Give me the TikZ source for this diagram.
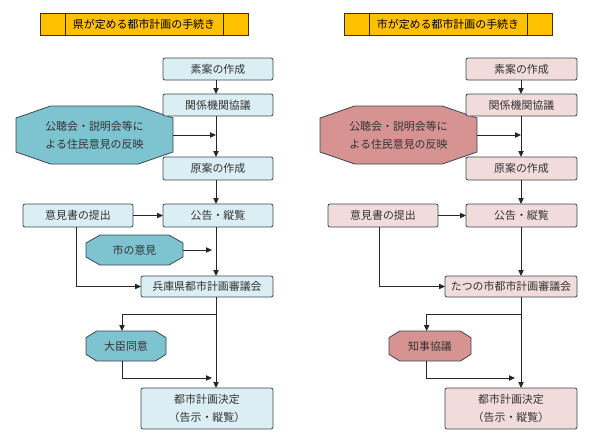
\documentclass[tikz,border=0pt]{standalone}
\usepackage{fontspec}
\setmainfont{Noto Sans CJK JP}
\usetikzlibrary{arrows.meta,backgrounds}

\definecolor{boxLc}{HTML}{DBEEF3}
\definecolor{octLc}{HTML}{7EC3D0}
\definecolor{boxRc}{HTML}{F2DCDB}
\definecolor{octRc}{HTML}{D69392}
\definecolor{ttlc}{HTML}{FFC000}
\definecolor{edgec}{HTML}{3A4650}
\definecolor{txtc}{HTML}{333333}

\tikzset{
  sz/.style 2 args={minimum width=#1*0.75pt, minimum height=#2*0.75pt},
  base/.style={font=\fontsize{8.2}{13.5}\selectfont, text=txtc, align=center, inner sep=0pt, outer sep=0pt},
  boxL/.style={base, draw=edgec, fill=boxLc, rounded corners=1.5pt, line width=0.6pt},
  boxR/.style={base, draw=edgec, fill=boxRc, rounded corners=1.5pt, line width=0.6pt},
  ttl/.style={base, text=black, draw=black!80, fill=ttlc, line width=0.6pt},
  octtext/.style={base},
  octLs/.style={draw=edgec, fill=octLc, line width=0.6pt},
  octRs/.style={draw=edgec, fill=octRc, line width=0.6pt},
  conn/.style={draw=black!85, line width=0.6pt, -{Triangle[length=4.5pt,width=4pt]}},
  plain/.style={draw=black!85, line width=0.6pt},
}

% octagon behind a named node: name, horizontal cut, vertical cut, style
\newcommand\octo[4]{%
  \begin{scope}[on background layer]
    \draw[#4] ([xshift=#2]#1.north west) -- ([xshift=-#2]#1.north east)
      -- ([yshift=-#3]#1.north east) -- ([yshift=#3]#1.south east)
      -- ([xshift=-#2]#1.south east) -- ([xshift=#2]#1.south west)
      -- ([yshift=#3]#1.south west) -- ([yshift=-#3]#1.north west) -- cycle;
  \end{scope}}

% title dividers
\newcommand\ttldiv[2]{%
  \draw[plain] ([xshift=#2]#1.north west) -- ([xshift=#2]#1.south west);
  \draw[plain] ([xshift=-#2]#1.north east) -- ([xshift=-#2]#1.south east);}

\begin{document}
\begin{tikzpicture}[x=0.75pt, y=-0.75pt]
\useasboundingbox (0,0) rectangle (600,444);

% ---------------- left ----------------
\node[ttl, sz={208}{22}] (tL) at (144,24) {県が定める都市計画の手続き};
\ttldiv{tL}{18.75pt}
\node[boxL, sz={110}{22}] (aL) at (218,69) {素案の作成};
\node[boxL, sz={110}{22}] (bL) at (218,105) {関係機関協議};
\node[octtext, sz={157}{58}] (pL) at (94.5,135) {公聴会・説明会等に\\よる住民意見の反映};
\octo{pL}{26pt}{9pt}{octLs}
\node[boxL, sz={110}{23}] (cL) at (218,168.5) {原案の作成};
\node[boxL, sz={110}{23}] (dL) at (218,215.5) {公告・縦覧};
\node[boxL, sz={110}{23}] (eL) at (78,215.5) {意見書の提出};
\node[octtext, sz={97}{30}] (fL) at (134.5,250) {市の意見};
\octo{fL}{10.5pt}{6pt}{octLs}
\node[boxL, sz={132}{21}] (gL) at (207,286.5) {兵庫県都市計画審議会};
\node[octtext, sz={80}{30}] (hL) at (126,346) {大臣同意};
\octo{hL}{8pt}{5pt}{octLs}
\node[boxL, sz={132}{41}] (iL) at (207,408.5) {都市計画決定\\（告示・縦覧）};

\coordinate (sL) at (216,0);
\coordinate (brL) at (216,314);
\coordinate (jL) at (212,378);
\draw[conn] (sL |- aL.south) -- (sL |- bL.north);
\draw[conn] (sL |- bL.south) -- (sL |- cL.north);
\draw[conn] (pL.east) -- (sL |- pL.east);
\draw[conn] (sL |- cL.south) -- (sL |- dL.north);
\draw[conn] (eL.east) -- (dL.west);
\draw[conn] (sL |- dL.south) -- (sL |- gL.north);
\draw[conn] (fL.east) -- ([xshift=-3pt]sL |- fL.east);
\draw[conn] ([xshift=-1.5pt]eL.south) |- (gL.west);
\draw[conn] (sL |- gL.south) -- (sL |- iL.north);
\draw[conn] (brL) -| ([xshift=-3pt]hL.north);
\draw[conn] ([xshift=-3pt]hL.south) |- (jL);

% ---------------- right ----------------
\node[ttl, sz={208}{22}] (tR) at (448,24) {市が定める都市計画の手続き};
\ttldiv{tR}{18.75pt}
\node[boxR, sz={111}{22}] (aR) at (521.5,69) {素案の作成};
\node[boxR, sz={111}{22}] (bR) at (521.5,105) {関係機関協議};
\node[octtext, sz={157}{58}] (pR) at (398.5,135) {公聴会・説明会等に\\よる住民意見の反映};
\octo{pR}{26pt}{9pt}{octRs}
\node[boxR, sz={111}{23}] (cR) at (521.5,168.5) {原案の作成};
\node[boxR, sz={111}{23}] (dR) at (521.5,215.5) {公告・縦覧};
\node[boxR, sz={110}{23}] (eR) at (383,215.5) {意見書の提出};
\node[boxR, sz={132}{21}] (gR) at (511,286.5) {たつの市都市計画審議会};
\node[octtext, sz={82}{30}] (hR) at (430,346) {知事協議};
\octo{hR}{8pt}{5pt}{octRs}
\node[boxR, sz={132}{41}] (iR) at (511,408.5) {都市計画決定\\（告示・縦覧）};

\coordinate (sR) at (521,0);
\coordinate (brR) at (521,314);
\coordinate (jR) at (515,378);
\draw[conn] (sR |- aR.south) -- (sR |- bR.north);
\draw[conn] (sR |- bR.south) -- (sR |- cR.north);
\draw[conn] (pR.east) -- (sR |- pR.east);
\draw[conn] (sR |- cR.south) -- (sR |- dR.north);
\draw[conn] (eR.east) -- (dR.west);
\draw[conn] (sR |- dR.south) -- (sR |- gR.north);
\draw[conn] ([xshift=-3pt]eR.south) |- (gR.west);
\draw[conn] (sR |- gR.south) -- (sR |- iR.north);
\draw[conn] (brR) -| ([xshift=-2.5pt]hR.north);
\draw[conn] ([xshift=-2.5pt]hR.south) |- (jR);
\end{tikzpicture}
\end{document}
